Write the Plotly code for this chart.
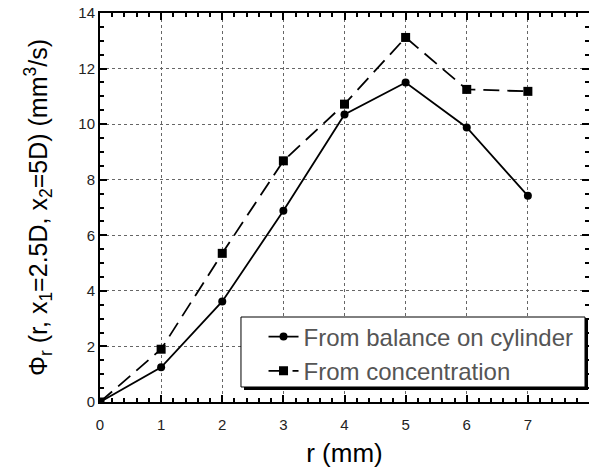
import plotly.graph_objects as go

r_mm = [0, 1, 2, 3, 4, 5, 6, 7]
phi_cylinder = [0, 1.25, 3.62, 6.88, 10.35, 11.5, 9.88, 7.42]
phi_concentration = [0, 1.9, 5.35, 8.68, 10.72, 13.12, 11.25, 11.18]
x_ticks = [0, 1, 2, 3, 4, 5, 6, 7, 8]
y_ticks = [0, 2, 4, 6, 8, 10, 12, 14]
names = ["From balance on cylinder", "From concentration"]

FONT = "Liberation Sans, Arial, sans-serif"

fig = go.Figure()
fig.add_trace(go.Scatter(x=r_mm, y=phi_cylinder, mode="lines+markers", name=names[0],
                         line=dict(color="black", width=1.8),
                         marker=dict(symbol="circle", size=8, color="black")))
fig.add_trace(go.Scatter(x=r_mm, y=phi_concentration, mode="lines+markers", name=names[1],
                         line=dict(color="black", width=1.8, dash="16px,8px"),
                         marker=dict(symbol="square", size=9, color="black")))
# invisible trace to carry mirrored axes (top/right minor ticks)
fig.add_trace(go.Scatter(x=[r_mm[0]], y=[phi_cylinder[0]], xaxis="x2", yaxis="y2",
                         mode="markers", marker=dict(opacity=0), showlegend=False, hoverinfo="skip"))

tick_common = dict(ticks="inside", ticklen=7, tickwidth=2, tickcolor="black",
                   zeroline=False, tickfont=dict(family=FONT, size=15, color="#222"))

fig.update_layout(
    xaxis=dict(range=[0, 8], tickvals=x_ticks, showline=True, linecolor="black", linewidth=2,
               showgrid=True, gridcolor="#666", gridwidth=1.2, griddash="dot",
               ticklabelstandoff=8,
               minor=dict(dtick=0.2, ticks="inside", ticklen=4, tickwidth=1.5, tickcolor="black", showgrid=False),
               title=dict(text="r (mm)", font=dict(family=FONT, size=26, color="black"), standoff=12),
               **tick_common),
    yaxis=dict(range=[0, 14], tickvals=y_ticks, showline=True, linecolor="black", linewidth=2,
               showgrid=True, gridcolor="#666", gridwidth=1.2, griddash="dot",
               minor=dict(dtick=0.5, ticks="inside", ticklen=4, tickwidth=1.5, tickcolor="black", showgrid=False),
               title=dict(text="Φ<sub>r</sub> (r, x<sub>1</sub>=2.5D, x<sub>2</sub>=5D) (mm<sup>3</sup>/s)",
                          font=dict(family=FONT, size=25, color="black"), standoff=24),
               **tick_common),
    xaxis2=dict(range=[0, 8], tickvals=x_ticks, overlaying="x", side="top", anchor="y",
                showline=True, linecolor="black", linewidth=2, showgrid=False, showticklabels=False,
                minor=dict(dtick=0.2, ticks="inside", ticklen=4, tickwidth=1.5, tickcolor="black", showgrid=False),
                ticks="inside", ticklen=7, tickwidth=2, tickcolor="black", zeroline=False),
    yaxis2=dict(range=[0, 14], tickvals=y_ticks, overlaying="y", side="right", anchor="x",
                showline=True, linecolor="black", linewidth=2, showgrid=False, showticklabels=False,
                minor=dict(dtick=0.5, ticks="inside", ticklen=4, tickwidth=1.5, tickcolor="black", showgrid=False),
                ticks="inside", ticklen=7, tickwidth=2, tickcolor="black", zeroline=False),
)

# legend box with drop shadow (offset right/down)
fig.add_shape(type="rect", xref="paper", yref="paper", x0=0.2945, x1=0.998, y0=0.0308, y1=0.2108,
              fillcolor="black", line=dict(width=0), layer="above")
fig.add_shape(type="rect", xref="paper", yref="paper", x0=0.2883, x1=0.9918, y0=0.0386, y1=0.2185,
              fillcolor="white", line=dict(color="black", width=1), layer="above")

fig.update_layout(
    width=589, height=472,
    margin=dict(l=100, r=0, t=13, b=70),
    plot_bgcolor="white", paper_bgcolor="white",
    font=dict(family=FONT),
    legend=dict(x=0.3344, y=0.225, xanchor="left", yanchor="top",
                bgcolor="rgba(0,0,0,0)", borderwidth=0,
                font=dict(family=FONT, size=24, color="#555"),
                tracegroupgap=0, itemwidth=30),
    showlegend=True,
)

fig.write_html("out.html")
